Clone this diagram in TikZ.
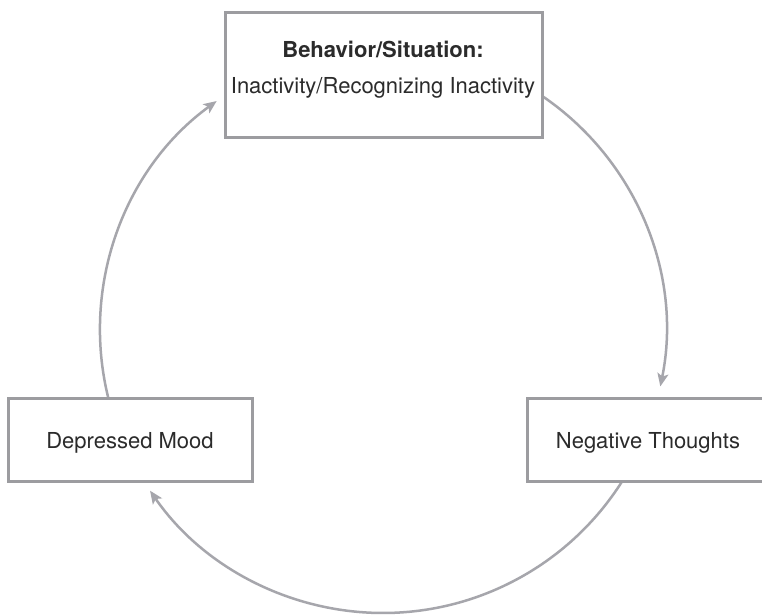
\documentclass[tikz,border=0pt]{standalone}
\usepackage{fontspec}
\setmainfont{TeX Gyre Heros}
\usetikzlibrary{arrows.meta,calc}
\definecolor{boxgray}{HTML}{9C9CA0}
\definecolor{arcgray}{HTML}{A6A6AC}
\definecolor{txt}{HTML}{2B2B2B}
\begin{document}
\begin{tikzpicture}[x=1pt,y=1pt,
  box/.style={draw=boxgray, line width=3pt, fill=white, inner sep=0pt},
  lbl/.style={text=txt, font=\fontsize{22}{26}\selectfont, inner sep=0pt, anchor=base},
  lblb/.style={text=txt, font=\fontsize{22}{26}\selectfont\bfseries, inner sep=0pt, anchor=base},
  cyc/.style={draw=arcgray, line width=2.5pt, -{Stealth[length=13pt,width=11pt,inset=3pt]}}]
\useasboundingbox (0,0) rectangle (762,-615);
\clip (0,0) rectangle (762,-615);
\fill[white] (0,0) rectangle (762,-615);
% circle geometry
\coordinate (c) at (383,-330);
\coordinate (l0) at ($(c)+(193.9:283)$);
\coordinate (r0) at ($(c)+(55.8:283)$);
\coordinate (b0) at ($(c)+(-32.25:283)$);
% arcs
\draw[cyc] (l0) arc[start angle=193.9, end angle=126, radius=283];
\draw[cyc] (r0) arc[start angle=55.8, end angle=-11.5, radius=283];
\draw[cyc] (b0) arc[start angle=-32.25, end angle=-145.4, radius=283];
% boxes
\node[box, minimum width=317pt, minimum height=124pt] (top) at (383.5,-75) {};
\node[lblb] (t1) at (383,-58) {Behavior/Situation:};
\node[lbl] (t2) at (383,-94) {Inactivity/Recognizing Inactivity};
\node[box, minimum width=244pt, minimum height=83pt] (dep) at (130,-439.5) {};
\node[lbl] (dept) at (130,-448) {Depressed Mood};
\node[box, minimum width=242pt, minimum height=83pt] (neg) at (648,-439.5) {};
\node[lbl] (negt) at (648,-448) {Negative Thoughts};
\end{tikzpicture}
\end{document}
